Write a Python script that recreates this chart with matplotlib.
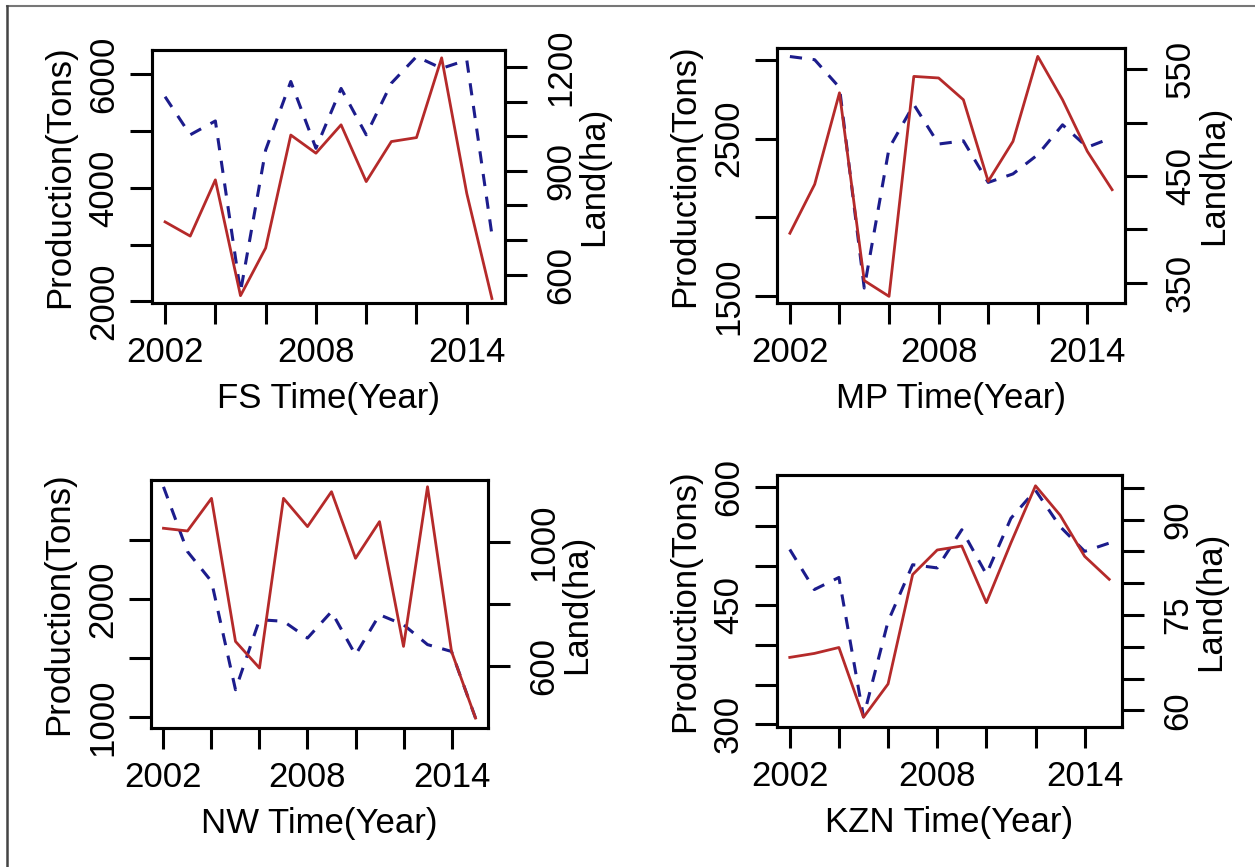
import matplotlib.pyplot as plt
import numpy as np
from matplotlib.lines import Line2D

plt.rcParams['font.family'] = ['Liberation Sans', 'DejaVu Sans']

years = list(range(2002, 2016))

# production (tons, left axis) and land (ha, right axis) per province
fs_production = [3400, 3150, 4140, 2100, 2940, 4930, 4610, 5110, 4110, 4815, 4885, 6290, 3900, 2050]
fs_land = [1114, 1004, 1044, 550, 960, 1158, 965, 1138, 1004, 1153, 1230, 1196, 1220, 715]

mp_production = [1900, 2210, 2790, 1600, 1500, 2894, 2884, 2746, 2229, 2482, 3021, 2746, 2419, 2176]
mp_land = [562, 559, 533, 345, 476, 517, 480, 483, 444, 452, 470, 498, 477, 486]

nw_production = [2599, 2576, 2852, 1642, 1417, 2852, 2613, 2908, 2345, 2655, 1600, 2950, 1557, 994]
nw_land = [1177, 969, 873, 525, 750, 745, 691, 776, 637, 766, 734, 670, 648, 434]

kzn_production = [384.5, 389.5, 397, 309, 351, 489, 520, 525, 453.5, 529, 601, 564, 512, 483]
kzn_land = [85.3, 79, 80.9, 59, 74, 82.9, 82.4, 88.4, 81.4, 90.2, 94.6, 88.9, 85, 86.3]

x_ticks = list(range(2002, 2015, 2))
x_labels = [2002, 2008, 2014]

RED = '#b52a2a'
BLUE = '#1c1c8c'
W, H = 1255, 867


def set_ticks(axis, ticks, shown):
    axis.set_ticks(ticks)
    axis.set_ticklabels([str(t) if t in shown else '' for t in ticks])


def panel(box, name, prod, land, lylim, lticks, lshown, rylim, rticks, rshown):
    left, top, right, bottom = box
    ax = fig.add_axes([left / W, 1 - bottom / H, (right - left) / W, (bottom - top) / H])
    ax2 = ax.twinx()
    ax.plot(years, prod, color=RED, lw=2.0, zorder=3)
    ax2.plot(years, land, color=BLUE, lw=2.2, dashes=(4, 3.5))
    ax.set_zorder(ax2.get_zorder() + 1)
    ax.patch.set_visible(False)
    ax.set_xlim(2001.48, 2015.52)
    ax.set_ylim(*lylim)
    ax2.set_ylim(*rylim)
    set_ticks(ax.xaxis, x_ticks, x_labels)
    set_ticks(ax.yaxis, lticks, lshown)
    set_ticks(ax2.yaxis, rticks, rshown)
    for a in (ax, ax2):
        for s in a.spines.values():
            s.set_linewidth(2.2)
            s.set_color('black')
    ax.tick_params(axis='x', length=15, width=2.2, pad=9, labelsize=25)
    ax.tick_params(axis='y', length=16, width=2.2, pad=7, labelsize=25)
    ax2.tick_params(axis='y', length=16, width=2.2, pad=12, labelsize=25)
    for lab in ax.get_yticklabels() + ax2.get_yticklabels():
        lab.set_rotation(90)
        lab.set_va('center')
    ax.set_xlabel(name + ' Time(Year)', fontsize=25, labelpad=9)
    ax.set_ylabel('Production(Tons)', fontsize=25, labelpad=8)
    ax2.set_ylabel('Land(ha)', fontsize=25, labelpad=0, rotation=90)


fig = plt.figure(figsize=(W / 100, H / 100), dpi=100)

panel((152, 50, 505, 303), 'FS', fs_production, fs_land,
      (1971, 6428), [2000, 3000, 4000, 5000, 6000], [2000, 4000, 6000],
      (518, 1249), [600, 700, 800, 900, 1000, 1100, 1200], [600, 900, 1200])
panel((777, 48, 1125, 303), 'MP', mp_production, mp_land,
      (1458, 3074), [1500, 2000, 2500, 3000], [1500, 2500],
      (331, 570), [350, 400, 450, 500, 550], [350, 450, 550])
panel((151, 480, 488, 728), 'NW', nw_production, nw_land,
      (910, 3007), [1000, 1500, 2000, 2500], [1000, 2000],
      (402, 1199), [600, 800, 1000], [600, 1000])
panel((777, 475, 1122, 727), 'KZN', kzn_production, kzn_land,
      (296.7, 614.6), [300, 350, 400, 450, 500, 550, 600], [300, 450, 600],
      (57.4, 97), [60, 65, 70, 75, 80, 85, 90, 95], [60, 75, 90])

# outer frame lines (top and left)
fig.add_artist(Line2D([7 / W, 1], [1 - 6 / H, 1 - 6 / H], color='#777777', lw=1.5))
fig.add_artist(Line2D([7 / W, 7 / W], [0, 1 - 6 / H], color='#444444', lw=1.8))

fig.savefig('out.png', dpi=100)
